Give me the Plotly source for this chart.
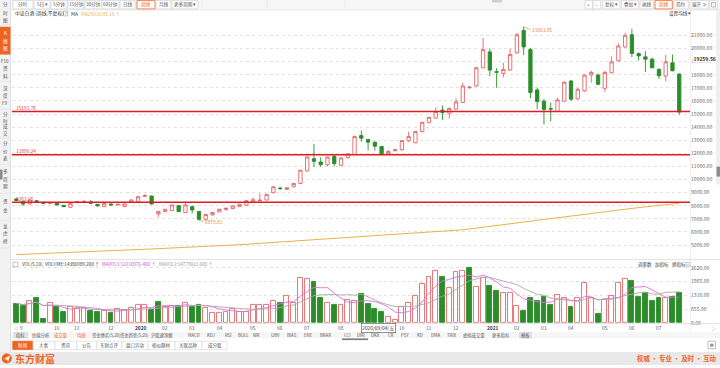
import plotly.graph_objects as go
import pandas as pd

W, H = 720, 368

# ---------------- data ----------------
week_end = pd.date_range("2019-09-06", "2021-07-30", freq="W-FRI").strftime("%Y-%m-%d").tolist()
no_trade_weeks = ["2020-01-31"]
weeks = [d for d in week_end if d not in no_trade_weeks]

open_ = [8520, 8310, 8134, 8386, 8260, 8160, 8235, 8030, 7880, 8235,
         8290, 8285, 8108, 7932, 8134, 8058, 7932, 8285, 8310, 8715,
         8740, 7377, 7553, 7629, 8008, 7478, 7932, 7560, 6960, 7300,
         7529, 7720, 7782, 7933, 8034, 8300, 8380, 8437, 8992, 9340,
         9245, 9447, 9700, 10658, 11591, 11339, 11137, 11768, 11087, 11667,
         11919, 13357, 13054, 12852, 12524, 11970, 12196, 12272, 12960, 12801,
         13660, 14366, 14694, 15300, 15073, 15375, 15881, 17000, 17142, 18530,
         19740, 18230, 18100, 18353, 19665, 21381, 19918, 16840, 15983, 15400,
         15200, 15983, 17521, 16159, 16764, 17975, 17975, 16966, 18152, 19060,
         20120, 21053, 19615, 19363, 19186, 18404, 17899, 18909, 18051]
high = [8560, 8386, 8480, 8420, 8290, 8300, 8260, 8060, 8210, 8360,
        8390, 8440, 8130, 8210, 8180, 8130, 8160, 8480, 8740, 8890,
        8790, 7600, 7760, 8080, 8030, 8310, 8000, 7590, 7360, 7520,
        7780, 7850, 8020, 8140, 8420, 8640, 8940, 8900, 9500, 9450,
        9400, 9750, 10750, 11800, 12726, 11700, 11750, 11900, 11700, 12000,
        13350, 13735, 13100, 12900, 12550, 12250, 12350, 13000, 13650, 13700,
        14400, 14800, 15500, 15650, 15500, 16200, 17394, 17150, 18600, 20800,
        20000, 18500, 18900, 20000, 21200, 21663.85, 20050, 17016, 16150, 15880,
        16250, 17500, 17600, 17000, 18000, 18300, 18100, 18300, 19400, 20400,
        21200, 21500, 19700, 19800, 19300, 18500, 19500, 19550, 18100]
low = [8330, 7982, 8100, 8290, 8150, 8130, 8030, 7900, 7860, 8200,
       8260, 8130, 7960, 7900, 8030, 8030, 7910, 8260, 8290, 8690,
       8100, 7150, 7530, 7600, 7520, 7450, 7430, 6879.81, 6900, 7250,
       7500, 7600, 7760, 7900, 8000, 8280, 8330, 8420, 8950, 9200,
       9220, 9400, 9650, 10600, 10960, 10960, 11000, 11000, 11000, 11600,
       11880, 12900, 12221, 12200, 11843, 11900, 12150, 12200, 12850, 12780,
       13600, 14300, 14650, 14550, 14650, 15300, 15850, 16950, 17100, 18500,
       17900, 17000, 17800, 18300, 19600, 19500, 16209, 15376, 14200, 14443,
       15150, 15950, 16000, 16100, 16700, 17400, 17200, 16700, 18100, 19000,
       20050, 19350, 19100, 18200, 18500, 17700, 17500, 18250, 14948]
close = [8400, 8134, 8436, 8310, 8184, 8235, 8058, 7932, 8184, 8310,
         8336, 8184, 7982, 8184, 8058, 8108, 8134, 8436, 8689, 8765,
         8134, 7553, 7730, 8058, 7553, 8058, 7680, 6960, 7330, 7480,
         7731, 7807, 7983, 8109, 8387, 8460, 8420, 8866, 9447, 9310,
         9370, 9699, 10708, 11717, 11389, 11137, 11717, 11213, 11642, 11969,
         13281, 13155, 12852, 12549, 11969, 12150, 12272, 12978, 13281, 13660,
         14366, 14744, 15199, 15123, 15426, 15930, 17142, 17050, 18530, 19917,
         18353, 18190, 18403, 19539, 21053, 20120, 16638, 15957, 15352, 15380,
         16083, 17420, 16134, 16890, 17975, 18177, 17268, 18177, 18984, 20195,
         21003, 19615, 19438, 19186, 18530, 17924, 18984, 18303, 15149]
# weekly volume, in units of 10,000 (万)
volume = [921, 811, 1031, 1189, 182, 969, 764, 544, 780, 654,
          701, 560, 528, 575, 497, 654, 622, 733, 843, 843,
          622, 1000, 780, 811, 811, 937, 780, 858, 733, 497,
          465, 528, 654, 544, 528, 858, 843, 843, 1047, 950,
          1283, 937, 2148, 2101, 1960, 1204, 969, 858, 858, 1094,
          1047, 1362, 921, 654, 544, 292, 135, 764, 969, 1283,
          1834, 2195, 2463, 2195, 1645, 2431, 2463, 2620, 1708, 2148,
          1755, 1503, 1409, 1409, 811, 560, 1204, 1047, 1252, 858,
          1315, 1173, 764, 1173, 1881, 1204, 418, 1094, 1283, 1920,
          2080, 2010, 1250, 1415, 1060, 1170, 1190, 1245, 1438.7]
vol_dir = list("GGRGGRGGRR" "RGGRGRRRRR" "GGRRGRGGRR" "RRRRRRRRRG"
               "RRRRGGRGRR" "RGGGGRRRRR" "RRRGRRRGRR" "GGRRRGGGGG"
               "RRGRRRGRRR" "RGGGGGRGG")
ma250_idx = [0, 10, 20, 33, 45, 55, 66, 76, 86, 92, 98]
ma250_val = [4270, 4470, 4700, 5027, 5430, 5780, 6163, 6820, 7503, 7860, 8185.10]
support_levels = [15191.76, 11890.24, 8262.05]
price_ticks = [21000, 20000, 19000, 18000, 17000, 16000, 15000, 14000, 13000,
               12000, 11000, 10000, 9000, 8000, 7000, 6000, 5000]
vol_ticks = [0, 655, 1310, 1965, 2620]
month_weeks = ["2019-09-06", "2019-10-11", "2019-11-01", "2019-12-06", "2020-01-03",
               "2020-02-07", "2020-03-06", "2020-04-03", "2020-05-08", "2020-06-05",
               "2020-07-03", "2020-08-07", "2020-10-09", "2020-11-06", "2020-12-04",
               "2021-01-08", "2021-02-05", "2021-03-05", "2021-04-02", "2021-05-07",
               "2021-06-04", "2021-07-02"]
month_text = ["9", "10", "11", "12", "2020", "02", "03", "04", "05", "06", "07", "08",
              "10", "11", "12", "2021", "02", "03", "04", "05", "06", "07"]
hi_idx, lo_idx = 75, 27
cursor_week, cursor_text, cursor_price = "2020-09-04", "2020/09/04/五", 19259.56

# ---------------- style ----------------
UP = "#e36466"
DOWN = "#2a8d2a"
ORANGE = "#ef6421"
GOLD = "#e8b24a"
GRID = "#e2e2e2"
TXT = "#555555"
FONT = "Noto Sans CJK SC, Noto Sans, sans-serif"


def px(x):
    return x / W


def py(y):
    return 1 - y / H


shapes, ann = [], []


def rect(x0, y0, x1, y1, fill=None, line=None, lw=0.7):
    shapes.append(dict(type="rect", xref="paper", yref="paper",
                       x0=px(x0), x1=px(x1), y0=py(y1), y1=py(y0),
                       fillcolor=fill or "rgba(0,0,0,0)",
                       line=dict(color=line or "rgba(0,0,0,0)", width=lw if line else 0)))


def seg(x0, y0, x1, y1, color, w=0.8):
    shapes.append(dict(type="line", xref="paper", yref="paper",
                       x0=px(x0), x1=px(x1), y0=py(y0), y1=py(y1),
                       line=dict(color=color, width=w)))


def text(x, y, s, size=5.2, color=TXT, xanchor="left", bold=False, bg=None):
    d = dict(xref="paper", yref="paper", x=px(x), y=py(y),
             text=f"<b>{s}</b>" if bold else s, showarrow=False,
             xanchor=xanchor, yanchor="middle", borderpad=0,
             font=dict(size=size, color=color, family=FONT))
    if bg:
        d["bgcolor"] = bg
    ann.append(d)


fig = go.Figure()
fig.add_trace(go.Candlestick(
    x=weeks, open=open_, high=high, low=low, close=close,
    increasing=dict(line=dict(color=UP, width=0.9), fillcolor="#ffffff"),
    decreasing=dict(line=dict(color=DOWN, width=0.9), fillcolor=DOWN),
    whiskerwidth=0, hoverinfo="skip", xaxis="x", yaxis="y"))
fig.add_trace(go.Scatter(x=[weeks[i] for i in ma250_idx], y=ma250_val, mode="lines",
                         line=dict(color=GOLD, width=1), hoverinfo="skip",
                         xaxis="x", yaxis="y"))
fig.add_trace(go.Bar(
    x=weeks, y=volume, width=0.72,
    marker=dict(color=["#ffffff" if d == "R" else DOWN for d in vol_dir],
                line=dict(color=[UP if d == "R" else DOWN for d in vol_dir], width=0.9)),
    hoverinfo="skip", xaxis="x2", yaxis="y2"))
vs = pd.Series(volume)
fig.add_trace(go.Scatter(x=weeks, y=vs.rolling(5, min_periods=1).mean(), mode="lines",
                         line=dict(color="#e06ee0", width=0.9), hoverinfo="skip",
                         xaxis="x2", yaxis="y2"))
fig.add_trace(go.Scatter(x=weeks, y=vs.rolling(10, min_periods=1).mean(), mode="lines",
                         line=dict(color="#a9a9a9", width=0.9), hoverinfo="skip",
                         xaxis="x2", yaxis="y2"))

# ---------------- page chrome ----------------
# left sidebar
rect(0, 0, 10.5, 355, fill="#f2f2f2")
seg(10.5, 0, 10.5, 355, "#d9d9d9")
rect(0, 27, 10.5, 55, fill=ORANGE)
side = [(["分", "时", "图"], [5, 13, 21], TXT),
        (["K", "线", "图"], [33, 41, 49], "#ffffff"),
        (["F10", "资", "料"], [62, 69.5, 77], TXT),
        (["深", "度", "F9"], [89, 96.5, 104], TXT),
        (["分", "时", "成", "交"], [115, 121.5, 128, 134.5], TXT),
        (["分", "价", "表"], [145, 152.5, 160], TXT),
        (["多", "周", "期"], [173, 180.5, 188], TXT),
        (["资", "金"], [203, 212], TXT),
        (["龙", "虎", "榜"], [228, 235.5, 243], TXT)]
for chars, ys, col in side:
    for ch, yy in zip(chars, ys):
        text(5.2, yy, ch, size=4.6, color=col, xanchor="center")
for yy in [25, 82, 110, 139, 166, 195, 222, 250]:
    seg(0, yy, 10.5, yy, "#dddddd", 0.6)
rect(0, 171, 2.5, 181, fill="#8a8a8a")

# top toolbar
rect(11, 0, 720, 10, fill="#f6f6f6")
seg(11, 10, 720, 10, "#dedede", 0.7)
tabs = [(13, 33, "分时"), (34, 50, "5日 ▾"), (51, 67, "5分钟"), (68, 84, "15分钟"),
        (85, 102, "30分钟"), (102, 119, "60分钟"), (120, 135, "日线"), (137, 155, "周线"),
        (156, 171, "月线"), (172, 198, "更多周期 ▾")]
for x0, x1, t in tabs:
    sel = t == "周线"
    rect(x0, 0.6, x1, 9, fill="#ffffff", line=ORANGE if sel else "#d6d6d6", lw=0.8)
    text((x0 + x1) / 2, 4.8, t, size=4.6, color=ORANGE if sel else TXT, xanchor="center")
for xx in [202, 267, 345]:
    seg(xx, 0, xx, 8, "#e4e4e4", 0.6)
rect(492, 0, 502, 2.5, fill="#cfcfcf")
rtabs = [(585, 592.7, "+"), (593, 600.7, "−"), (602.7, 620, "复权 ▾"), (621.7, 638.3, "叠加 ▾"),
         (640, 653.3, "画线"), (655, 672.3, "周线"), (674, 688.3, "简约"), (690, 708.3, "展开 ≫")]
for x0, x1, t in rtabs:
    sel = t == "周线"
    rect(x0, 0.6, x1, 9, fill="#ffffff", line=ORANGE if sel else "#d6d6d6", lw=0.8)
    text((x0 + x1) / 2, 4.8, t, size=4.6, color=ORANGE if sel else TXT, xanchor="center")
rect(709.5, 0.6, 717.5, 9, fill="#ffffff", line="#d6d6d6")
rect(711.5, 2.6, 715.5, 7, line="#888888", lw=0.6)

# title row of main chart
text(14, 13.6, "中证白酒 (周线,不复权)", size=4.8, color="#333333")
rect(63.5, 11.3, 67.8, 16, fill="#ffffff", line="#999999", lw=0.6)
text(65.65, 13.7, "?", size=3.8, color="#777777", xanchor="center")
text(70, 13.6, "MA", size=4.8, color="#333333")
text(80, 13.6, "MA250:8185.10 ↑", size=4.8, color=GOLD)
text(668, 14, "设置均线 ▾", size=4.6, color="#444444")

# right column + scrollbar
seg(690.5, 10, 690.5, 334, "#e6e6e6", 0.6)
rect(716, 10, 720, 186, fill="#efefef")
rect(716.5, 168, 720, 178, fill="#8f8f8f")

# support lines
for lv in support_levels:
    shapes.append(dict(type="line", xref="paper", yref="y", x0=px(12), x1=px(690),
                       y0=lv, y1=lv, line=dict(color="#e01b22", width=1.6)))
    ann.append(dict(xref="paper", yref="y", x=px(14.5), y=lv, text=f"{lv:.2f}",
                    showarrow=False, xanchor="left", yanchor="bottom", yshift=-0.5,
                    borderpad=0, font=dict(size=4.8, color="#e03a3a", family=FONT)))

# high / low markers
ann.append(dict(xref="x", yref="y", x=weeks[hi_idx], y=high[hi_idx], text=f"{high[hi_idx]:.2f}",
                showarrow=True, arrowhead=0, arrowwidth=0.7, arrowcolor="#e8914a",
                ax=7, ay=3, xanchor="left", yanchor="middle", borderpad=0,
                font=dict(size=4.8, color="#e8823a", family=FONT)))
ann.append(dict(xref="x", yref="y", x=weeks[lo_idx], y=low[lo_idx], text=f"{low[lo_idx]:.2f}",
                showarrow=True, arrowhead=0, arrowwidth=0.7, arrowcolor="#e8914a",
                ax=5, ay=1, xanchor="left", yanchor="middle", borderpad=0,
                font=dict(size=4.8, color="#e8823a", family=FONT)))

# cursor labels
ann.append(dict(xref="paper", yref="y", x=px(692), y=cursor_price, text=f"<b>{cursor_price:.2f}</b>",
                showarrow=False, xanchor="left", yanchor="middle", borderpad=0.5, bgcolor="#ffffff",
                font=dict(size=5, color="#333333", family=FONT)))
ann.append(dict(xref="x", yref="paper", x=cursor_week, y=py(330.3), text=cursor_text,
                showarrow=False, xanchor="left", yanchor="middle", borderpad=0.6,
                bgcolor="#ffffff", bordercolor="#666666", borderwidth=0.7,
                font=dict(size=4.8, color="#333333", family=FONT)))

# volume panel chrome
seg(11, 261.5, 720, 261.5, "#d8d8d8", 0.8)
seg(12, 326.3, 720, 326.3, "#d4d4d4", 0.7)
rect(13, 264.3, 18, 268.8, fill="#ffffff", line="#999999", lw=0.6)
text(20.5, 266.6, "VOL(5,10)", size=4.6, color="#444444")
text(44, 266.6, "VOLUME:14386989.200 ↑", size=4.6, color="#333333")
text(100.5, 266.6, "MAVOL1:12210976.400 ↑", size=4.6, color="#d24fd2")
text(158, 266.6, "MAVOL2:14779023.600 ↑", size=4.6, color="#999999")
text(637, 266.7, "调参数", size=4.5, color="#444444")
text(654, 266.7, "加指标", size=4.5, color="#444444")
text(671, 266.7, "换指标", size=4.5, color="#444444")
rect(686, 264.5, 690, 269, fill="#ffffff", line="#aaaaaa", lw=0.6)
text(688, 266.7, "×", size=3.6, color="#777777", xanchor="center")

# x-axis labels (month marks)
for wk, t in zip(month_weeks, month_text):
    yr = len(t) == 4
    ann.append(dict(xref="x", yref="paper", x=wk, y=py(330.3),
                    text=f"<b>{t}</b>" if yr else t, showarrow=False,
                    xanchor="left", yanchor="middle", xshift=3, borderpad=0,
                    font=dict(size=4.8, color="#333333" if yr else TXT, family=FONT)))
text(13, 330.3, "◁", size=4.2, color="#888888")
text(711, 330.3, "▷", size=4.2, color="#888888")

# indicator row
rect(11, 334.5, 720, 341, fill="#f6f6f6")
rect(14, 335, 27.5, 340.8, fill="#e4e4e4", line="#cfcfcf", lw=0.5)
inds = [(20.7, "指标", TXT), (40.5, "估值分析", TXT), (60.5, "成交量", ORANGE), (81, "均线", ORANGE),
        (106, "资金博弈(5,20)", TXT), (134.5, "资金趋势(5,20)", TXT), (161.5, "沪股通净额", TXT),
        (194, "MACD", TXT), (211, "KDJ", TXT), (228, "RSI", TXT), (243, "BOLL", TXT),
        (256, "WR", TXT), (275.5, "OBV", TXT), (292, "BIAS", TXT), (308, "ENE", TXT),
        (325.5, "BRAR", TXT), (347, "CCI", TXT), (361, "DMI", TXT), (375, "DKX", TXT),
        (390.5, "CR", TXT), (404.5, "PSY", TXT), (420, "KD", TXT), (435, "DMA", TXT),
        (452, "TRIX", TXT), (474, "虚拟成交量", TXT), (500.5, "更多指标", TXT)]
for xc, t, col in inds:
    text(xc, 337.8, t, size=4.3, color=col, xanchor="center")
rect(519.5, 335, 531.5, 340.8, fill="#e4e4e4", line="#cfcfcf", lw=0.5)
text(525.5, 337.8, "模板", size=4.3, color=TXT, xanchor="center")
rect(342, 341.2, 368, 343.2, fill="#7d7d7d")

# bottom tabs row
rect(11, 343, 720, 355, fill="#ffffff")
btabs = [(12.7, 33, "新闻"), (33, 55, "大事"), (55, 77, "资讯"), (77, 97, "公告"),
         (97, 122, "东财点评"), (122, 148, "盘口异动"), (148, 175, "相似题材"),
         (175, 202, "关联品种"), (202, 227, "成分股")]
for x0, x1, t in btabs:
    sel = t == "新闻"
    rect(x0, 344, x1, 352.5, fill=ORANGE if sel else "#ffffff",
         line=ORANGE if sel else "#dadada", lw=0.7)
    text((x0 + x1) / 2, 348.3, t, size=4.5, color="#ffffff" if sel else TXT, xanchor="center")
rect(708, 344, 715.5, 351.5, fill="#ffffff", line="#999999", lw=0.6)
rect(710, 346.5, 713.5, 349.5, fill="#999999")

# bottom brand bar
rect(0, 355, 720, 368, fill="#e9e9e9")
shapes.append(dict(type="circle", xref="paper", yref="paper", x0=px(1.8), x1=px(11.8),
                   y0=py(366.5), y1=py(356.5), fillcolor=ORANGE, line=dict(width=0)))
pts = [(4.0, 361.6), (10.0, 358.4), (8.2, 364.8), (7.0, 362.6)]
path = "M " + " L ".join(f"{px(a)} {py(b)}" for a, b in pts) + " Z"
shapes.append(dict(type="path", xref="paper", yref="paper", path=path,
                   fillcolor="#ffffff", line=dict(width=0)))
text(14, 361.6, "东方财富", size=10, color=ORANGE, bold=True)
text(718, 361.3, "权威 · 专业 · 及时 · 互动", size=6.4, color=ORANGE, bold=True, xanchor="right")

# ---------------- layout ----------------
xr = [-0.64, 99.59]
axis_font = dict(size=5.1, color="#666666", family=FONT)
fig.update_layout(
    width=W, height=H, margin=dict(l=0, r=0, t=0, b=0),
    paper_bgcolor="#ffffff", plot_bgcolor="#ffffff",
    showlegend=False, hovermode=False, bargap=0,
    font=dict(family=FONT, size=5, color=TXT),
    xaxis=dict(domain=[px(12), px(690)], type="category", range=xr, anchor="y",
               showticklabels=False, showgrid=False, zeroline=False, showline=False,
               ticks="", rangeslider=dict(visible=False), fixedrange=True),
    yaxis=dict(domain=[py(260), py(10)], range=[4020.5, 22945.5], side="right", anchor="x",
               tickvals=price_ticks, ticktext=[f"{v:.2f}" for v in price_ticks],
               tickfont=axis_font, showgrid=True, gridcolor=GRID, griddash="dot",
               gridwidth=0.8, zeroline=False, showline=False, ticks="", fixedrange=True),
    xaxis2=dict(domain=[px(12), px(690)], type="category", range=xr, anchor="y2",
                showticklabels=False, showgrid=False, zeroline=False, showline=False,
                ticks="", fixedrange=True),
    yaxis2=dict(domain=[py(325.5), py(262)], range=[0, 2998], side="right", anchor="x2",
                tickvals=vol_ticks, ticktext=[f"{v:.2f}" for v in vol_ticks],
                tickfont=axis_font, showgrid=True, gridcolor=GRID, griddash="dot",
                gridwidth=0.8, zeroline=False, showline=False, ticks="", fixedrange=True),
    shapes=shapes, annotations=ann,
)

fig.write_html("out.html", config={"displayModeBar": False},
               post_script="document.body.style.margin='0px';document.body.style.overflow='hidden';")
